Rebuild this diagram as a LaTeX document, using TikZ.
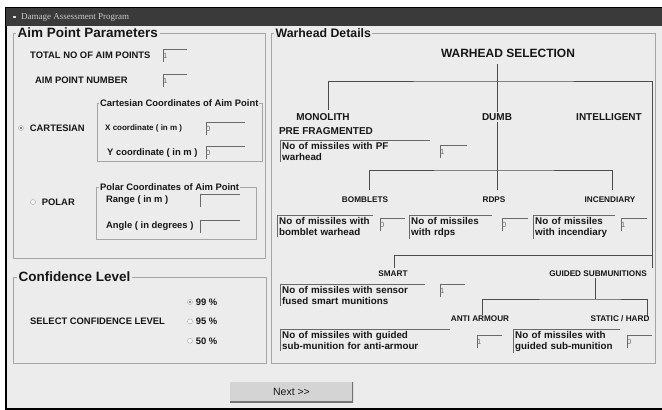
\documentclass[tikz,border=0pt]{standalone}
\usepackage{fontspec}
\setmainfont{Liberation Sans}
\newfontfamily\titlefont{Liberation Serif}
\usetikzlibrary{positioning}

\definecolor{winbg}{RGB}{236,236,236}
\definecolor{barbg}{RGB}{58,58,58}
\definecolor{etch}{RGB}{165,165,165}
\definecolor{sunk}{RGB}{105,105,105}
\definecolor{inktext}{RGB}{22,22,22}
\definecolor{btnbg}{RGB}{212,212,212}

\begin{document}
\begin{tikzpicture}[
    x=1pt, y=-1pt,
    every node/.style={text=inktext},
    groupbox/.style={rectangle, draw=etch, line width=0.9pt, anchor=north west, inner sep=0pt},
    heading/.style={fill=winbg, anchor=west, inner sep=1.5pt, font=\bfseries\fontsize{13.5}{15}\selectfont},
    subheading/.style={fill=winbg, anchor=west, inner sep=1pt, font=\bfseries\fontsize{9.4}{11}\selectfont},
    fieldname/.style={anchor=west, inner sep=0pt, font=\bfseries\fontsize{9.4}{11}\selectfont},
    branch/.style={inner sep=1pt, font=\bfseries\fontsize{10}{12}\selectfont},
    subbranch/.style={inner sep=1pt, font=\bfseries\fontsize{8.2}{10}\selectfont},
    field/.style={rectangle, anchor=north west, inner sep=0pt, text width=#1, minimum height=13pt, align=left,
        font=\fontsize{7.5}{8}\selectfont, text=sunk,
        path picture={\draw[sunk, line width=1.6pt] (path picture bounding box.south west) -- (path picture bounding box.north west) -- (path picture bounding box.north east);}},
    msgbox/.style={rectangle, anchor=north west, inner xsep=2pt, inner ysep=2pt, text width=#1, align=left,
        font=\bfseries\fontsize{9.8}{11}\selectfont,
        path picture={\draw[sunk, line width=1.6pt] (path picture bounding box.south west) -- (path picture bounding box.north west) -- (path picture bounding box.north east);}},
    radio/.style={circle, draw=etch, fill=white!60!winbg, minimum size=5pt, inner sep=0pt},
    radioon/.style={radio, path picture={\fill[sunk] (path picture bounding box.center) circle (1.2pt);}},
    button/.style={rectangle, fill=btnbg, minimum width=123pt, minimum height=20pt, font=\fontsize{10.5}{12}\selectfont,
        path picture={\draw[black!55, line width=2.4pt] (path picture bounding box.south west) -- (path picture bounding box.south east) -- (path picture bounding box.north east);}},
    tree/.style={draw=black!70, line width=0.9pt}
]
\fill[white] (0,0) rectangle (662,410);
\useasboundingbox (0,0) rectangle (662,410);

% Window frame and title bar
\node[rectangle, fill=winbg, draw=black, line width=2pt, anchor=north west, minimum width=664pt, minimum height=401pt, inner sep=0pt] (window) at (5,7) {};
\node[rectangle, fill=barbg, anchor=north west, minimum width=660pt, minimum height=18pt, inner sep=0pt] (titlebar) at (6,8) {};
\node[fill=white!85!black, minimum width=3pt, minimum height=2pt, inner sep=0pt] (icon) at (14,17) {};
\node[anchor=west, inner sep=0pt, text=white!80!black, font=\titlefont\fontsize{9}{10}\selectfont] (titletext) at (21,17) {Damage Assessment Program};

% Left side: Aim point parameters
\node[groupbox, minimum width=252pt, minimum height=225pt] (aimbox) at (13,33) {};
\node[heading] (aimhead) at (16,33) {Aim Point Parameters};

\node[fieldname] (totallbl) at (30,55) {TOTAL NO OF AIM POINTS};
\node[field=24pt] (totalfld) at (163,49) {1};
\node[fieldname] (numlbl) at (35,80) {AIM POINT NUMBER};
\node[field=24pt] (numfld) at (163,74) {1};

\node[groupbox, minimum width=165pt, minimum height=58pt] (cartbox) at (97,103) {};
\node[subheading] (carthead) at (99,103) {Cartesian Coordinates of Aim Point};
\node[radioon] (cartradio) at (21,128) {};
\node[fieldname, right=6pt of cartradio] (cartlbl) {CARTESIAN};
\node[fieldname, font=\bfseries\fontsize{8}{9}\selectfont] (xlbl) at (105,128) {X coordinate ( in m )};
\node[field=39pt] (xfld) at (206,122) {0};
\node[fieldname] (ylbl) at (107,153) {Y coordinate ( in m )};
\node[field=39pt] (yfld) at (206,146) {0};

\node[groupbox, minimum width=160pt, minimum height=52pt] (polbox) at (96,187) {};
\node[subheading] (polhead) at (99,187) {Polar Coordinates of Aim Point};
\node[radio] (polradio) at (33,202) {};
\node[fieldname, right=6pt of polradio] (pollbl) {POLAR};
\node[fieldname] (rangelbl) at (106,200) {Range ( in m )};
\node[field=40pt] (rangefld) at (200,194) {};
\node[fieldname] (anglelbl) at (106,226) {Angle ( in degrees )};
\node[field=40pt] (anglefld) at (200,220) {};

% Confidence level
\node[groupbox, minimum width=253pt, minimum height=86pt] (confbox) at (13,277) {};
\node[heading] (confhead) at (17,277) {Confidence Level};
\node[fieldname] (conflbl) at (30,321) {SELECT CONFIDENCE LEVEL};
\node[radioon] (r99) at (190,302) {};
\node[fieldname, right=3pt of r99] (l99) {99 \%};
\node[radio, below=14pt of r99] (r95) {};
\node[fieldname, right=3pt of r95] (l95) {95 \%};
\node[radio, below=14pt of r95] (r50) {};
\node[fieldname, right=3pt of r50] (l50) {50 \%};

\node[button] (nextbtn) at (291.5,392) {Next >{}>};

% Right side: Warhead details
\node[groupbox, minimum width=384pt, minimum height=330pt] (warbox) at (271,33) {};
\node[heading, font=\bfseries\fontsize{12.3}{14}\selectfont] (warhead) at (274,33) {Warhead Details};
\node[branch, font=\bfseries\fontsize{12}{14}\selectfont] (wsel) at (508,53) {WARHEAD SELECTION};

\node[branch] (mono) at (323,117) {MONOLITH};
\node[branch] (dumb) at (497,117) {DUMB};
\node[branch] (intel) at (609,117) {INTELLIGENT};
\node[branch] (prefrag) at (326,131) {PRE FRAGMENTED};

\coordinate (selbar) at (497,81);
\coordinate (monotip) at (328,110);
\coordinate (guidtip) at (652,268);
\draw[tree, shorten <=6pt] (wsel.south -| dumb) -- (dumb.north);
\draw[tree] (monotip) |- (selbar) -| (guidtip);

\node[msgbox=146pt] (pfmsg) at (280,140) {No of missiles with PF\\warhead};
\node[field=27pt] (pffld) at (440,145) {1};

% Dumb branch
\coordinate (dumbbar) at (497,170);
\coordinate (bombtip) at (369,190);
\coordinate (inctip) at (612,190);
\coordinate (rdpstip) at (497,190);
\draw[tree] (dumb.south) -- (rdpstip);
\draw[tree] (bombtip) |- (dumbbar) -| (inctip);

\node[subbranch] (bomb) at (365,200) {BOMBLETS};
\node[subbranch] (rdps) at (494,200) {RDPS};
\node[subbranch] (incend) at (610,200) {INCENDIARY};

\node[msgbox=92pt] (bombmsg) at (277,215) {No of missiles with\\bomblet warhead};
\node[field=25pt] (bombfld) at (380,218) {0};
\node[msgbox=79pt] (rdpsmsg) at (409,215) {No of missiles\\with rdps};
\node[field=26pt] (rdpsfld) at (502,218) {0};
\node[msgbox=78pt] (incmsg) at (533,215) {No of missiles\\with incendiary};
\node[field=26pt] (incfld) at (621,218) {1};

% Intelligent branch
\coordinate (smartbar) at (652,255);
\coordinate (smarttip) at (394,268);
\draw[tree] (smarttip) |- (smartbar);
\node[subbranch] (smart) at (393,274) {SMART};
\node[subbranch] (guided) at (598,274) {GUIDED SUBMUNITIONS};

\node[msgbox=141pt] (smartmsg) at (280,284) {No of missiles with sensor\\fused smart munitions};
\node[field=25pt] (smartfld) at (440,284) {1};

\coordinate (guidbar) at (595,299);
\coordinate (antitip) at (482,315);
\coordinate (stattip) at (647,317);
\draw[tree] (guided.south -| guidbar) -- (guidbar);
\draw[tree] (antitip) |- (guidbar) -| (stattip);
\node[subbranch] (anti) at (480,319) {ANTI ARMOUR};
\node[subbranch] (static) at (620,319) {STATIC / HARD};

\node[msgbox=166pt] (antimsg) at (280,329) {No of missiles with guided\\sub-munition for anti-armour};
\node[field=25pt] (antifld) at (477,335) {1};
\node[msgbox=103pt] (statmsg) at (513,329) {No of missiles with\\guided sub-munition};
\node[field=25pt] (statfld) at (627,335) {0};

\end{tikzpicture}
\end{document}
